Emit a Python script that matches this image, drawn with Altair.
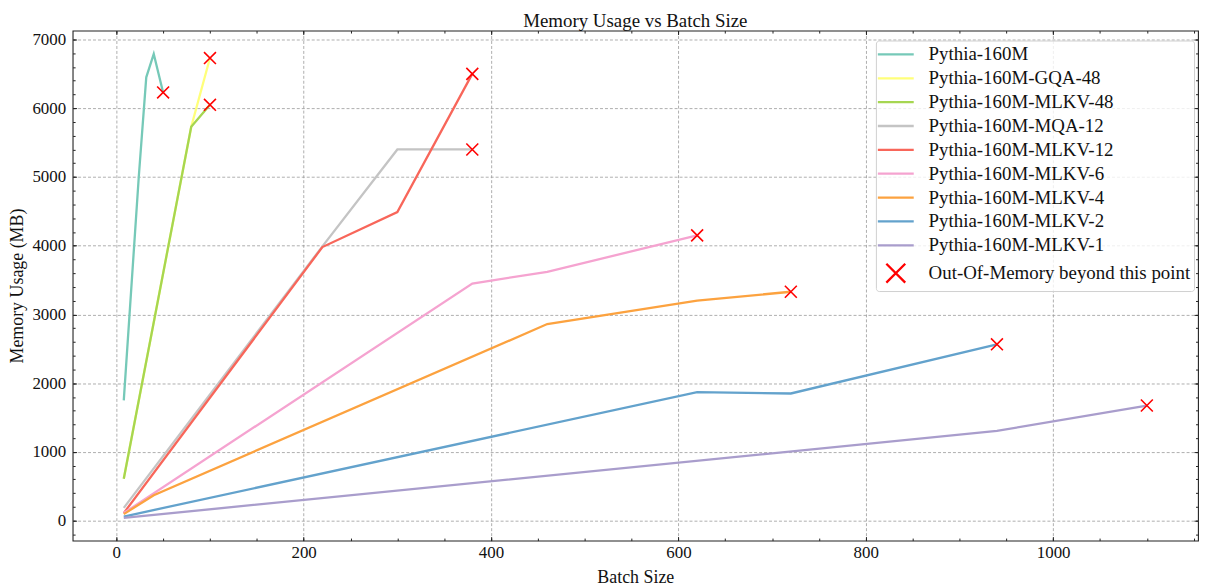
import altair as alt
import pandas as pd

# ---------------- data ----------------
series_names = [
    "Pythia-160M",
    "Pythia-160M-GQA-48",
    "Pythia-160M-MLKV-48",
    "Pythia-160M-MQA-12",
    "Pythia-160M-MLKV-12",
    "Pythia-160M-MLKV-6",
    "Pythia-160M-MLKV-4",
    "Pythia-160M-MLKV-2",
    "Pythia-160M-MLKV-1",
]
oom_label = "Out-Of-Memory beyond this point"

series_colors = [
    "#76c9b8", "#ffff7a", "#a6d651", "#c4c4c4", "#f8665a",
    "#f5a3d0", "#fca23f", "#63a2cc", "#a99dcc",
]
oom_color = "#ff0000"

bs_160m = [8, 24, 32, 40, 50]
mem_160m = [1750, 5000, 6450, 6790, 6230]

bs_gqa48 = [8, 80, 100]
mem_gqa48 = [610, 5730, 6730]

bs_mlkv48 = [8, 80, 100]
mem_mlkv48 = [610, 5730, 6050]

bs_mqa12 = [8, 220, 300, 380]
mem_mqa12 = [185, 3990, 5400, 5400]

bs_mlkv12 = [8, 220, 300, 380]
mem_mlkv12 = [110, 3980, 4490, 6500]

bs_mlkv6 = [8, 380, 460, 620]
mem_mlkv6 = [110, 3450, 3620, 4150]

bs_mlkv4 = [8, 40, 460, 620, 720]
mem_mlkv4 = [95, 370, 2860, 3200, 3330]

bs_mlkv2 = [8, 620, 720, 940]
mem_mlkv2 = [60, 1870, 1850, 2565]

bs_mlkv1 = [8, 940, 1100]
mem_mlkv1 = [40, 1305, 1675]

all_bs = [bs_160m, bs_gqa48, bs_mlkv48, bs_mqa12, bs_mlkv12, bs_mlkv6, bs_mlkv4, bs_mlkv2, bs_mlkv1]
all_mem = [mem_160m, mem_gqa48, mem_mlkv48, mem_mqa12, mem_mlkv12, mem_mlkv6, mem_mlkv4, mem_mlkv2, mem_mlkv1]

x_major = [0, 200, 400, 600, 800, 1000]
x_minor = list(range(0, 1151, 50))
y_major = [0, 1000, 2000, 3000, 4000, 5000, 6000, 7000]
y_minor = list(range(-200, 7001, 200))

# ---------------- tables ----------------
rows = []
oom_rows = []
for k, (name, xs, ys) in enumerate(zip(series_names, all_bs, all_mem)):
    for j, (xv, yv) in enumerate(zip(xs, ys)):
        rows.append({"series": name, "batch": xv, "mem": yv, "idx": k * 100 + j})
    oom_rows.append({"series": oom_label, "batch": xs[-1], "mem": ys[-1]})
df_lines = pd.DataFrame(rows)
df_oom = pd.DataFrame(oom_rows)

legend_labels = series_names + [oom_label]
line_path = "M-1.9,0H1.9"
x_path = "M-1,-1L1,1M1,-1L-1,1"

FONT = "Liberation Serif"
W, H = 1132, 513

x_scale = alt.Scale(domain=[-46.6, 1154.6], nice=False, zero=False)
y_scale = alt.Scale(domain=[-290, 7130], nice=False, zero=False)
color_scale = alt.Scale(domain=legend_labels, range=series_colors + [oom_color])
shape_scale = alt.Scale(domain=legend_labels, range=[line_path] * len(series_names) + [x_path])

legend = alt.Legend(title=None, orient="none", legendX=W - 324, legendY=10)

tick_common = dict(labels=False, grid=False, domain=False, title=None, tickColor="#222", tickWidth=1)

# grid layer
grid_layer = alt.Chart(df_lines).mark_point(opacity=0).encode(
    x=alt.X("batch:Q", scale=x_scale, axis=alt.Axis(orient="bottom", values=x_major, grid=True, ticks=False,
                                                    labels=False, domain=False, title=None,
                                                    gridColor="#9a9a9a", gridDash=[3, 2], gridWidth=0.8, zindex=0)),
    y=alt.Y("mem:Q", scale=y_scale, axis=alt.Axis(orient="left", values=y_major, grid=True, ticks=False,
                                                  labels=False, domain=False, title=None,
                                                  gridColor="#9a9a9a", gridDash=[3, 2], gridWidth=0.8, zindex=0)),
)

lines = alt.Chart(df_lines).mark_line(strokeWidth=2.3).encode(
    x=alt.X("batch:Q", scale=x_scale,
            axis=alt.Axis(orient="bottom", values=x_major, format="d", grid=False, domain=False,
                          tickSize=4, offset=-4, tickColor="#222", tickWidth=1,
                          labelFont=FONT, labelFontSize=17, labelColor="#111", labelPadding=4,
                          title="Batch Size", titleFont=FONT, titleFontSize=18, titleFontWeight="normal",
                          titleColor="#111", titleBaseline="alphabetic", titleY=46, zindex=1)),
    y=alt.Y("mem:Q", scale=y_scale,
            axis=alt.Axis(orient="left", values=y_major, format="d", grid=False, domain=False,
                          tickSize=4, offset=-4, tickColor="#222", tickWidth=1,
                          labelFont=FONT, labelFontSize=17, labelColor="#111", labelPadding=7,
                          title="Memory Usage (MB)", titleFont=FONT, titleFontSize=18, titleFontWeight="normal",
                          titleColor="#111", titleBaseline="middle", titleX=-59, zindex=1)),
    color=alt.Color("series:N", scale=color_scale, legend=legend),
    detail="series:N",
    order="idx:Q",
)

markers = alt.Chart(df_oom).mark_point(filled=False, size=144, strokeWidth=1.6, opacity=1).encode(
    x=alt.X("batch:Q", scale=x_scale,
            axis=alt.Axis(orient="top", values=x_major, tickSize=4, offset=-4, zindex=1, **tick_common)),
    y=alt.Y("mem:Q", scale=y_scale,
            axis=alt.Axis(orient="right", values=y_major, tickSize=4, offset=-4, zindex=1, **tick_common)),
    color=alt.Color("series:N", scale=color_scale, legend=legend),
    shape=alt.Shape("series:N", scale=shape_scale, legend=legend),
)

minor_a = alt.Chart(df_lines).mark_point(opacity=0).encode(
    x=alt.X("batch:Q", scale=x_scale,
            axis=alt.Axis(orient="bottom", values=x_minor, tickSize=2.5, offset=-2.5, zindex=1, **tick_common)),
    y=alt.Y("mem:Q", scale=y_scale,
            axis=alt.Axis(orient="left", values=y_minor, tickSize=2.5, offset=-2.5, zindex=1, **tick_common)),
)

minor_b = alt.Chart(df_lines).mark_point(opacity=0).encode(
    x=alt.X("batch:Q", scale=x_scale,
            axis=alt.Axis(orient="top", values=x_minor, tickSize=2.5, offset=-2.5, zindex=1, **tick_common)),
    y=alt.Y("mem:Q", scale=y_scale,
            axis=alt.Axis(orient="right", values=y_minor, tickSize=2.5, offset=-2.5, zindex=1, **tick_common)),
)

chart = alt.layer(grid_layer, lines, markers, minor_a, minor_b).resolve_axis(
    x="independent", y="independent"
).properties(
    width=W,
    height=H,
    padding={"left": 65, "top": 21, "right": 2, "bottom": 45},
    autosize=alt.AutoSizeParams(type="none"),
    title=alt.TitleParams("Memory Usage vs Batch Size", font=FONT, fontSize=19, fontWeight="normal",
                          color="#111", anchor="middle", frame="group", baseline="alphabetic",
                          offset=1, dy=17),
).configure_view(
    stroke="#222", strokeWidth=1.1
).configure_legend(
    labelFont=FONT, labelFontSize=19, labelColor="#111", labelLimit=400,
    symbolSize=361, symbolStrokeWidth=2.3, symbolOffset=6, labelOffset=22,
    rowPadding=3, padding=3, strokeColor="#d0d0d0", fillColor="rgba(255,255,255,0.8)", cornerRadius=3,
)

chart.save("out.html", embed_options={"renderer": "svg", "actions": False})
